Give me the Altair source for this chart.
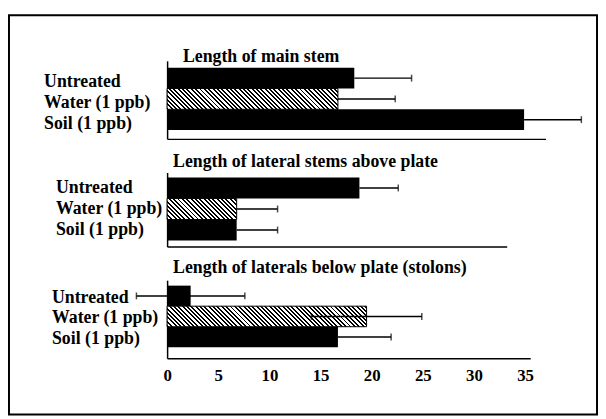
import altair as alt
import pandas as pd

# ---------------- data ----------------
categories = ["Untreated", "Water (1 ppb)", "Soil (1 ppb)"]
hatched = [False, True, False]
panel_titles = [
    "Length of main stem",
    "Length of lateral stems above plate",
    "Length of laterals below plate (stolons)",
]

main_stem_mean = [18.3, 16.7, 34.9]
main_stem_err = [5.6, 5.6, 5.6]
main_stem_two_sided = [False, False, False]

lateral_above_mean = [18.8, 6.8, 6.8]
lateral_above_err = [3.8, 4.0, 4.0]
lateral_above_two_sided = [False, False, False]

stolon_mean = [2.3, 19.5, 16.7]
stolon_err = [5.3, 5.4, 5.2]
stolon_two_sided = [True, True, False]

x_tick_values = [0, 5, 10, 15, 20, 25, 30, 35]
axis_max = [37.0, 33.2, 35.5]

# ---------------- styling ----------------
SERIF = "Liberation Serif"
PPU = 10.35  # pixels per unit on every panel


def hatch_fill(w, h, period=4.4, frac=0.45):
    """Diagonal '\\' hatch as a hard-stop linear gradient for a w x h rect."""
    r = h / w
    s = (1 + r) / (1 + r * r)
    total = w + h
    stops = []
    k = 0
    while k * period < total:
        a = min(1.0, k * period / total)
        b = min(1.0, (k + frac) * period / total)
        c = min(1.0, (k + 1) * period / total)
        stops += [
            {"offset": a, "color": "black"},
            {"offset": b, "color": "black"},
            {"offset": b, "color": "white"},
            {"offset": c, "color": "white"},
        ]
        k += 1
    return {"gradient": "linear", "x1": 0, "y1": 1, "x2": s, "y2": 1 - s * r, "stops": stops}


def panel(i, means, errs, two_sided, height, pad_outer, align, title_dx,
          title_y, label_pad, label_offset, show_x_labels=False, frame=None):
    df = pd.DataFrame({
        "cat": categories,
        "val": means,
        "err": errs,
        "two": two_sided,
        "hatched": hatched,
    })
    df["lo"] = [m - e if t else m for m, e, t in zip(means, errs, two_sided)]
    df["hi"] = df["val"] + df["err"]

    width = axis_max[i] * PPU
    band = height / (3 + 2 * pad_outer)
    water_w = means[hatched.index(True)] * PPU

    xscale = alt.Scale(domain=[0, axis_max[i]], nice=False, zero=True)
    yscale = alt.Scale(domain=categories, paddingInner=0, paddingOuter=pad_outer, align=align)

    if show_x_labels:
        xaxis = alt.Axis(values=x_tick_values, labelFont=SERIF, labelFontSize=17,
                         labelFontWeight="bold", labelColor="black", labelPadding=9,
                         labelFlush=False, ticks=False, tickSize=0, grid=False,
                         domainColor="black", domainWidth=1.5)
    else:
        xaxis = alt.Axis(labels=False, ticks=False, tickSize=0, grid=False,
                         domainColor="black", domainWidth=1.5)

    yaxis = alt.Axis(ticks=False, tickSize=0, labelAlign="left", labelBaseline="middle",
                     labelPadding=label_pad, labelOffset=label_offset, labelFont=SERIF,
                     labelFontSize=18, labelFontWeight="bold", labelColor="black",
                     domainColor="black", domainWidth=1.5, grid=False)

    Y = alt.Y("cat:N", scale=yscale, axis=yaxis, sort=categories, title=None)

    def X(field):
        return alt.X(field, scale=xscale, axis=xaxis, title=None)

    base = alt.Chart(df)

    solid = base.transform_filter("!datum.hatched").mark_bar(color="black").encode(
        x=X("val:Q"), y=Y)
    striped = base.transform_filter("datum.hatched").mark_bar(
        fill=hatch_fill(water_w, band), stroke="black", strokeWidth=1).encode(
        x=X("val:Q"), y=Y)
    whisker = base.mark_rule(color="black", strokeWidth=1.5).encode(
        x=X("lo:Q"), x2="hi:Q", y=Y)
    cap_hi = base.mark_tick(color="black", thickness=1.5, size=7).encode(
        x=X("hi:Q"), y=Y)
    cap_lo = base.transform_filter("datum.two").mark_tick(
        color="black", thickness=1.5, size=7).encode(x=X("lo:Q"), y=Y)

    title = alt.Chart(pd.DataFrame({"t": [panel_titles[i]]})).mark_text(
        align="left", baseline="alphabetic", font=SERIF, fontSize=18,
        fontWeight="bold", color="black").encode(
        text="t:N", x=alt.value(title_dx), y=alt.value(title_y))

    layers = [solid, striped, whisker, cap_hi, cap_lo, title]
    if frame is not None:
        fx1, fx2, fy1, fy2 = frame
        border = alt.Chart(pd.DataFrame({"k": [0]})).mark_rect(
            filled=False, stroke="black", strokeWidth=2).encode(
            x=alt.value(fx1), x2=alt.value(fx2), y=alt.value(fy1), y2=alt.value(fy2))
        layers.append(border)

    return alt.layer(*layers).properties(width=width, height=height)


p1 = panel(0, main_stem_mean, main_stem_err, main_stem_two_sided,
           height=79, pad_outer=0.38, align=0.44, title_dx=16, title_y=1,
           label_pad=125, label_offset=4)
p2 = panel(1, lateral_above_mean, lateral_above_err, lateral_above_two_sided,
           height=75, pad_outer=0.26, align=0.45, title_dx=6, title_y=-6,
           label_pad=113, label_offset=0)
p3 = panel(2, stolon_mean, stolon_err, stolon_two_sided,
           height=79, pad_outer=0.40, align=0.33, title_dx=6, title_y=-7,
           label_pad=117, label_offset=2, show_x_labels=True,
           frame=(-160, 435, -268, 136))

chart = alt.vconcat(p1, p2, p3, spacing=34, bounds="flush").properties(
    padding={"left": 0, "top": 4, "right": 0, "bottom": 0},
    background="white",
).configure_view(strokeWidth=0)

chart.save("out.html", embed_options={"renderer": "svg", "actions": False})
